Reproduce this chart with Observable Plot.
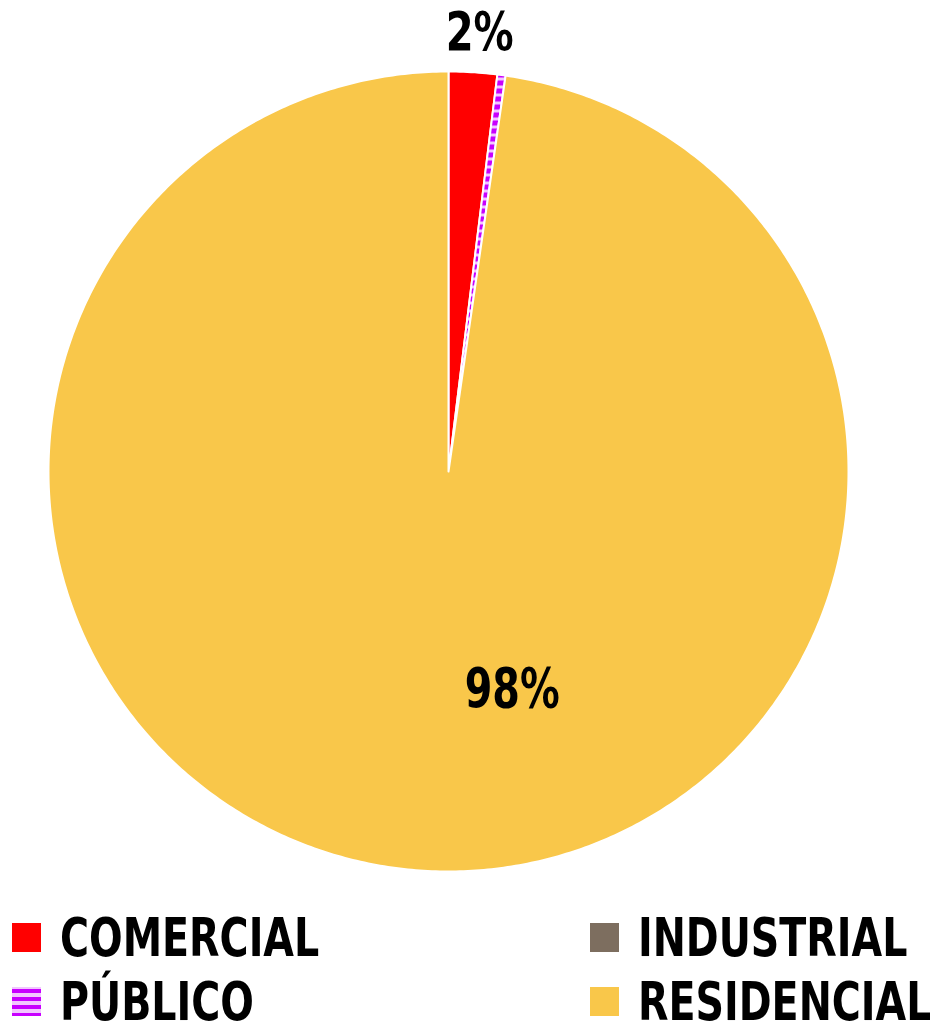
<!DOCTYPE html>
<html>
<head>
<meta charset="utf-8">
<script src="https://cdn.jsdelivr.net/npm/d3@7"></script>
<script src="https://cdn.jsdelivr.net/npm/@observablehq/plot@0.6"></script>
<style>
  html, body { margin: 0; padding: 0; background: #fff; }
  #wrap { position: relative; width: 930px; height: 1033px; overflow: hidden; }
  .lg { position: absolute; display: flex; align-items: center; height: 50px; white-space: nowrap;
        font-family: "DejaVu Sans Condensed", "DejaVu Sans", sans-serif;
        font-weight: bold; font-size: 53px; line-height: 1; color: #000; }
  .lg span { display: inline-block; line-height: 1; transform: scaleX(0.83); transform-origin: left center; }
  .sw { width: 29px; height: 29px; margin-right: 19px; flex: none; }
</style>
</head>
<body>
<div id="wrap"></div>
<script>
// ---- data ----
const sectors = ["COMERCIAL", "INDUSTRIAL", "PÚBLICO", "RESIDENCIAL"];
const shares  = [1.95, 0.0, 0.33, 97.72];   // percent of total
const colors  = ["#ff0000", "#7d6e5f", "url(#pubStripes)", "#f9c74a"];
const pieOrder = ["COMERCIAL", "PÚBLICO", "INDUSTRIAL", "RESIDENCIAL"];
const labelText = {"COMERCIAL": "2%", "RESIDENCIAL": "98%"};
const legendRows = [["COMERCIAL", "INDUSTRIAL"], ["PÚBLICO", "RESIDENCIAL"]];

// ---- build slices with d3.pie ----
const records = pieOrder.map(n => ({name: n, value: shares[sectors.indexOf(n)]}));
const arcs = d3.pie().sort(null).value(d => d.value)(records);

const pts = [];
for (const a of arcs) {
  if (a.endAngle - a.startAngle <= 0) continue;
  pts.push({name: a.data.name, x: 0, y: 0});
  const steps = Math.max(4, Math.ceil((a.endAngle - a.startAngle) / 0.01));
  for (let i = 0; i <= steps; i++) {
    const t = a.startAngle + (a.endAngle - a.startAngle) * i / steps;
    pts.push({name: a.data.name, x: Math.sin(t), y: Math.cos(t)});
  }
  pts.push({name: a.data.name, x: 0, y: 0});
}

const labels = arcs.filter(a => labelText[a.data.name]).map(a => {
  const mid = (a.startAngle + a.endAngle) / 2;
  const outside = a.data.name === "COMERCIAL";
  const r = outside ? 1.07 : 0.57;
  return {text: labelText[a.data.name], x: Math.sin(mid) * r, y: Math.cos(mid) * r, outside};
});

const fontFam = '"DejaVu Sans Condensed", "DejaVu Sans", sans-serif';

const chart = Plot.plot({
  width: 930,
  height: 895,
  marginLeft: 48,
  marginRight: 82,
  marginTop: 71,
  marginBottom: 24,
  x: {domain: [-1, 1], axis: null},
  y: {domain: [-1, 1], axis: null},
  color: {type: "ordinal", domain: sectors, range: colors},
  style: {background: "transparent"},
  marks: [
    Plot.line(pts, {x: "x", y: "y", z: "name", fill: "name", stroke: "white", strokeWidth: 2, strokeLinejoin: "round"}),
    Plot.text(labels.filter(d => d.outside), {x: "x", y: "y", text: "text", dx: 5, dy: -11,
      fontSize: 53, fontWeight: "bold", fill: "#000", fontFamily: fontFam}),
    Plot.text(labels.filter(d => !d.outside), {x: "x", y: "y", text: "text", dx: 80, dy: -10,
      fontSize: 55, fontWeight: "bold", fill: "#000", fontFamily: fontFam})
  ]
});

// condense label glyphs to match the narrow typeface
chart.querySelectorAll("text").forEach(t => {
  const s = t.textContent;
  if (s === "2%") { t.setAttribute("textLength", 68); t.setAttribute("lengthAdjust", "spacingAndGlyphs"); }
  if (s === "98%") { t.setAttribute("textLength", 95); t.setAttribute("lengthAdjust", "spacingAndGlyphs"); }
});

// stripe pattern for PÚBLICO
const ns = "http://www.w3.org/2000/svg";
const defs = document.createElementNS(ns, "defs");
defs.innerHTML = '<pattern id="pubStripes" patternUnits="userSpaceOnUse" width="8" height="8">' +
  '<rect width="8" height="8" fill="#f2c6ff"/><rect width="8" height="5" fill="#c800ff"/></pattern>';
chart.insertBefore(defs, chart.firstChild);

const wrap = document.getElementById("wrap");
chart.style.position = "absolute";
chart.style.left = "0px";
chart.style.top = "0px";
wrap.appendChild(chart);

// legend
const colX = [12, 590];
const rowY = [912, 976];
legendRows.forEach((row, ri) => {
  row.forEach((name, ci) => {
    const item = document.createElement("div");
    item.className = "lg";
    item.style.left = colX[ci] + "px";
    item.style.top = rowY[ri] + "px";
    const sw = document.createElement("div");
    sw.className = "sw";
    const c = colors[sectors.indexOf(name)];
    if (c.startsWith("url")) {
      sw.style.background = "repeating-linear-gradient(to bottom, #f2c6ff 0px, #f2c6ff 2px, #c800ff 2px, #c800ff 6px, #f2c6ff 6px, #f2c6ff 8px)";
    } else {
      sw.style.background = c;
    }
    const tx = document.createElement("span");
    tx.textContent = name;
    item.appendChild(sw);
    item.appendChild(tx);
    wrap.appendChild(item);
  });
});
</script>
</body>
</html>
